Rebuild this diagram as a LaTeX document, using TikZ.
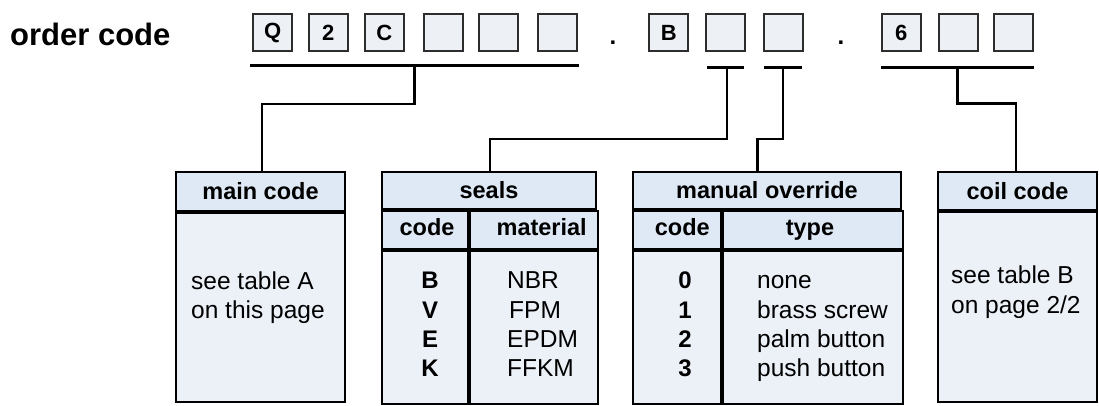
\documentclass[tikz,border=0pt]{standalone}
\usepackage{fontspec}
\setmainfont{Liberation Sans}
\definecolor{hdrblue}{RGB}{222, 233, 245}
\definecolor{bodyblue}{RGB}{236, 241, 248}
\definecolor{slotgray}{RGB}{237, 241, 246}
\definecolor{slotline}{RGB}{45, 45, 45}
\usetikzlibrary{positioning}

\begin{document}
\begin{tikzpicture}[x=1pt, y=-1pt,
  slot/.style={draw=slotline, line width=2pt, fill=slotgray, minimum width=39pt,
               minimum height=37pt, inner sep=0pt, font=\fontsize{22}{26}\selectfont\bfseries},
  bar/.style={fill=black, inner sep=0pt, minimum height=2.5pt},
  hdr/.style={draw, line width=2pt, fill=hdrblue, inner sep=0pt, anchor=north west,
              font=\fontsize{23.5}{28}\selectfont\bfseries},
  cell/.style={draw, line width=2pt, fill=bodyblue, inner sep=0pt, anchor=north west},
  entry/.style={anchor=base, inner sep=0pt, font=\fontsize{24.5}{29}\selectfont},
  wire/.style={line width=2.2pt},
]
\useasboundingbox (0,0) rectangle (1099,405);

% Order code
\node[anchor=base west, inner sep=0pt, font=\fontsize{31}{36}\selectfont\bfseries]
  (title) at (10,45) {order code};

\node[slot] (cd1) at (272.8,32.5) {Q};
\node[slot] (cd2) at (328.3,32.5) {2};
\node[slot] (cd3) at (384.2,32.5) {C};
\node[slot] (cd4) at (443,32.5) {};
\node[slot] (cd5) at (498.8,32.5) {};
\node[slot] (cd6) at (557.5,32.5) {};
\node[entry, font=\fontsize{24}{29}\selectfont\bfseries] (dot1) at (613,44) {.};
\node[slot] (sl) at (668.7,32.5) {B};
\node[slot] (mo1) at (725.8,32.5) {};
\node[slot] (mo2) at (783.7,32.5) {};
\node[entry, font=\fontsize{24}{29}\selectfont\bfseries] (dot2) at (841,44) {.};
\node[slot] (co1) at (901.2,32.5) {6};
\node[slot] (co2) at (958.3,32.5) {};
\node[slot] (co3) at (1013.8,32.5) {};

% Underlines
\node[bar, minimum width=329pt, minimum height=3.3pt] (bar1) at (414.5,65.3) {};
\node[bar, minimum width=37.3pt] (bar2) at (725.3,67.7) {};
\node[bar, minimum width=38pt] (bar3) at (783.3,67.7) {};
\node[bar, minimum width=153.6pt] (bar4) at (957.5,67.7) {};

% Main code
\node[hdr, minimum width=169pt, minimum height=38.5pt] (main) at (175,171) {main code};
\node[cell, minimum width=169pt, minimum height=189.5pt] (mainbody) at (main.south west) {};
\node[entry, anchor=base west] (mt1) at (191,289) {see table A};
\node[entry, anchor=base west] (mt2) at (191,318) {on this page};

% Seals
\node[hdr, minimum width=214pt, minimum height=37pt] (seals) at (381,171) {seals};
\node[hdr, minimum width=86pt, minimum height=38pt] (sealcode) at (seals.south west) {};
\node[hdr, minimum width=128pt, minimum height=38pt] (sealmat) at (sealcode.north east) {};
\node[cell, minimum width=86pt, minimum height=153pt] (sealcodebody) at (sealcode.south west) {};
\node[cell, minimum width=128pt, minimum height=153pt] (sealmatbody) at (sealmat.south west) {};
\node[entry, font=\fontsize{23.5}{28}\selectfont\bfseries] (sch1) at (427,235) {code};
\node[entry, font=\fontsize{23.5}{28}\selectfont\bfseries] (sch2) at (541.7,235) {material};
\node[entry, font=\fontsize{24}{29}\selectfont\bfseries] (sc1) at (430,288) {B};
\node[entry, font=\fontsize{24}{29}\selectfont\bfseries] (sc2) at (430,318) {V};
\node[entry, font=\fontsize{24}{29}\selectfont\bfseries] (sc3) at (430,347) {E};
\node[entry, font=\fontsize{24}{29}\selectfont\bfseries] (sc4) at (430,376) {K};
\node[entry, anchor=base west] (sm1) at (507,288) {NBR};
\node[entry, anchor=base west] (sm2) at (509,318) {FPM};
\node[entry, anchor=base west] (sm3) at (507,347) {EPDM};
\node[entry, anchor=base west] (sm4) at (507,376) {FFKM};

% Manual override
\node[hdr, minimum width=268pt, minimum height=37pt] (manual) at (632,171) {manual override};
\node[hdr, minimum width=88pt, minimum height=38pt] (mancode) at (manual.south west) {};
\node[hdr, minimum width=180pt, minimum height=38pt] (mantype) at (mancode.north east) {};
\node[cell, minimum width=88pt, minimum height=153pt] (mancodebody) at (mancode.south west) {};
\node[cell, minimum width=180pt, minimum height=153pt] (mantypebody) at (mantype.south west) {};
\node[entry, font=\fontsize{23.5}{28}\selectfont\bfseries] (mch1) at (682.3,235) {code};
\node[entry, font=\fontsize{23.5}{28}\selectfont\bfseries] (mch2) at (810,235) {type};
\node[entry, font=\fontsize{24}{29}\selectfont\bfseries] (mc1) at (685,288) {0};
\node[entry, font=\fontsize{24}{29}\selectfont\bfseries] (mc2) at (685,318) {1};
\node[entry, font=\fontsize{24}{29}\selectfont\bfseries] (mc3) at (685,347) {2};
\node[entry, font=\fontsize{24}{29}\selectfont\bfseries] (mc4) at (685,376) {3};
\node[entry, anchor=base west] (mt1) at (757,288) {none};
\node[entry, anchor=base west] (mt2) at (757,318) {brass screw};
\node[entry, anchor=base west] (mt3) at (757,347) {palm button};
\node[entry, anchor=base west] (mt4) at (757,376) {push button};

% Coil code
\node[hdr, minimum width=159pt, minimum height=38pt] (coil) at (937,171) {coil code};
\node[cell, minimum width=159pt, minimum height=190pt] (coilbody) at (coil.south west) {};
\node[entry, anchor=base west] (ct1) at (951,283) {see table B};
\node[entry, anchor=base west] (ct2) at (951,313) {on page 2/2};

% Connectors
\coordinate (k1) at (262,104.3);
\coordinate (k2) at (490,139);
\coordinate (k3) at (757.5,139);
\coordinate (k4) at (1016,103.5);
\draw[wire] (bar1.center) |- (k1) -- (k1 |- main.north);
\draw[wire] ([xshift=2pt]bar2.center) |- (k2) -- (k2 |- seals.north);
\draw[wire] (bar3.center) |- (k3) -- (k3 |- manual.north);
\draw[wire] (bar4.center) |- (k4) -- (k4 |- coil.north);
\end{tikzpicture}
\end{document}
